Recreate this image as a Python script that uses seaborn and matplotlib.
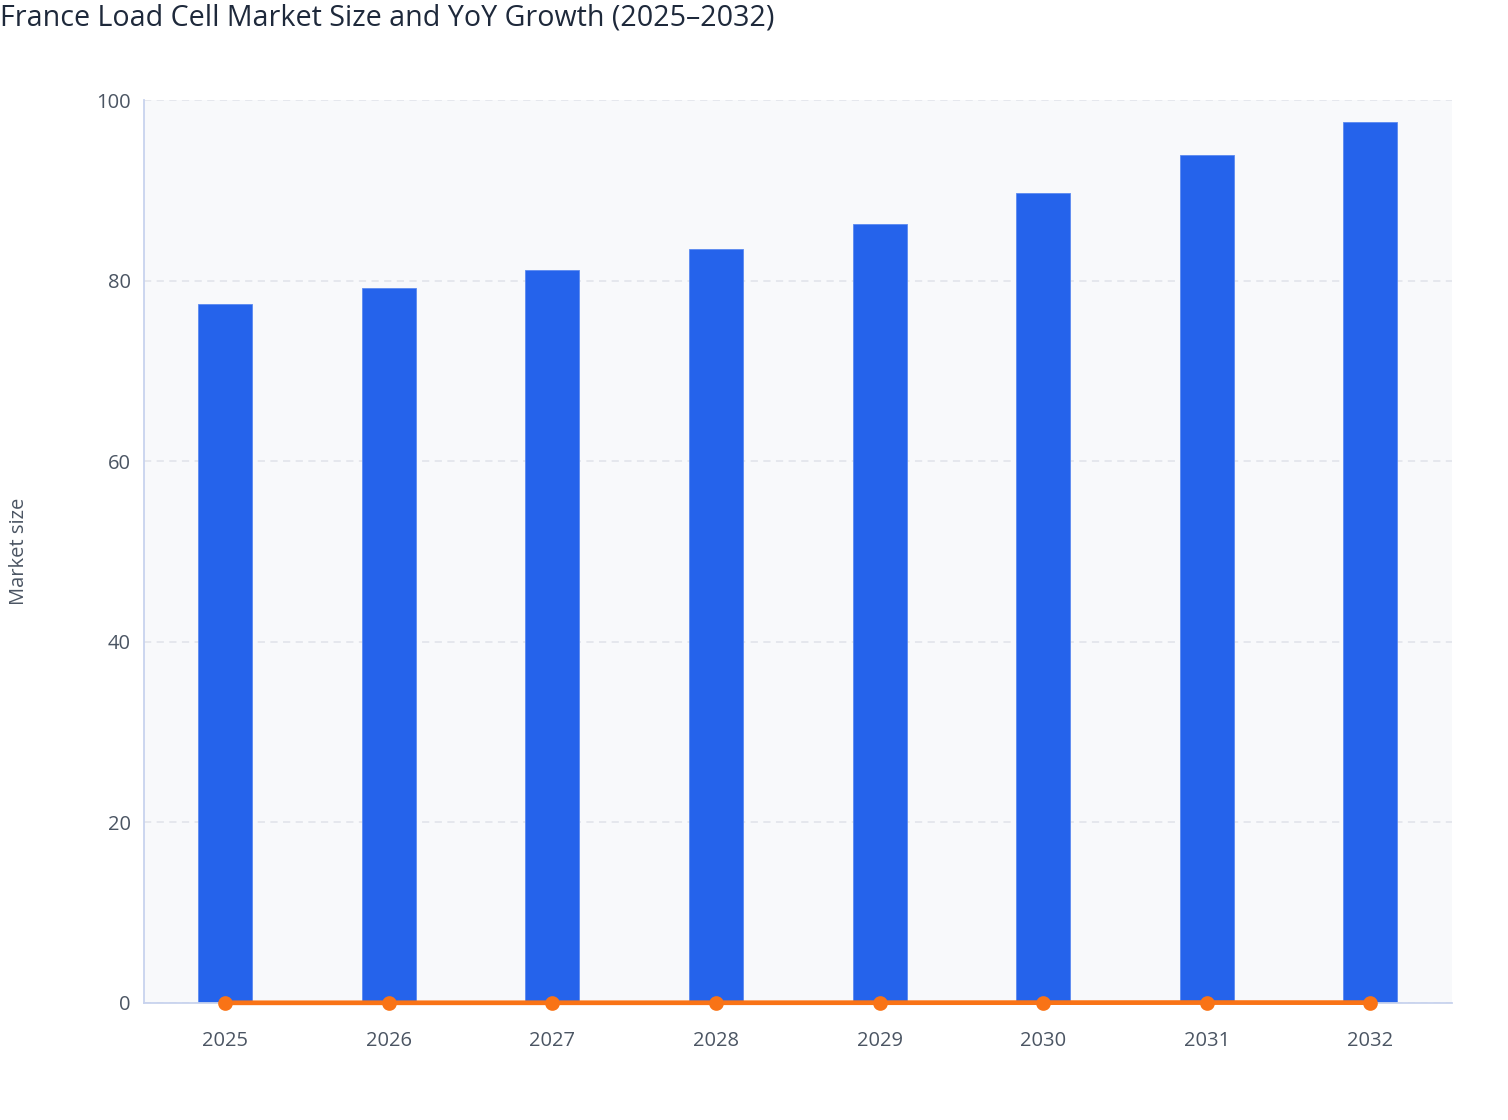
import matplotlib
matplotlib.use("Agg")
import matplotlib.pyplot as plt
import seaborn as sns
import pandas as pd

years = ["2025", "2026", "2027", "2028", "2029", "2030", "2031", "2032"]
market_size = [77.4, 79.2, 81.2, 83.5, 86.3, 89.7, 93.9, 97.6]
yoy_growth = [0.021, 0.023, 0.025, 0.028, 0.034, 0.039, 0.047, 0.040]
title = "France Load Cell Market Size and YoY Growth (2025\u20132032)"
y_label = "Market size"
y_ticks = [0, 20, 40, 60, 80, 100]

df = pd.DataFrame({"year": years, "size": market_size, "yoy": yoy_growth})

sns.set_theme(style="white")
plt.rcParams["font.family"] = ["Open Sans", "DejaVu Sans"]

L, R, T, B = 143.5, 1452, 100, 1003
fig = plt.figure(figsize=(15.08, 11.2), dpi=100)
ax = fig.add_axes([L / 1508, 1 - B / 1120, (R - L) / 1508, (B - T) / 1120])
ax.set_facecolor("#f8f9fb")

sns.barplot(data=df, x="year", y="size", color="#2563eb", width=0.33,
            saturation=1, edgecolor="#5b8af0", linewidth=0.6, ax=ax, zorder=2)
sns.pointplot(data=df, x="year", y="yoy", color="#f97316", markers="o",
              markersize=8, linewidth=3.4, ax=ax, zorder=3)
for c in ax.collections:
    c.set_clip_on(False)
for l in ax.lines:
    l.set_clip_on(False)

ax.set_xlim(-0.5, 7.5)
ax.set_ylim(0, 100)
ax.set_yticks(y_ticks)
ax.yaxis.grid(True, color="#e3e6ec", linestyle=(0, (4, 3)), linewidth=1.3, zorder=0)
ax.set_axisbelow(True)
ax.xaxis.grid(False)

for s in ["top", "right"]:
    ax.spines[s].set_visible(False)
for s in ["left", "bottom"]:
    ax.spines[s].set_color("#c8d3ee")
    ax.spines[s].set_linewidth(1.3)

ax.tick_params(axis="both", which="major", length=6, width=1.3, color="#c8d3ee",
               labelsize=14.5, labelcolor="#4b5563", direction="out")
ax.tick_params(axis="x", pad=14)
ax.tick_params(axis="y", pad=3)

ax.set_xlabel("")
ax.set_ylabel(y_label, fontsize=14.5, color="#4b5563", labelpad=0)
ax.yaxis.set_label_coords(-(L - 19) / (R - L), 0.5)
ax.yaxis.label.set_va("center")

fig.text(0.0, 1 - 4 / 1120, title, fontsize=20.6, fontweight=500,
         color="#1e293b", ha="left", va="top")

fig.savefig("out.png", dpi=100)
